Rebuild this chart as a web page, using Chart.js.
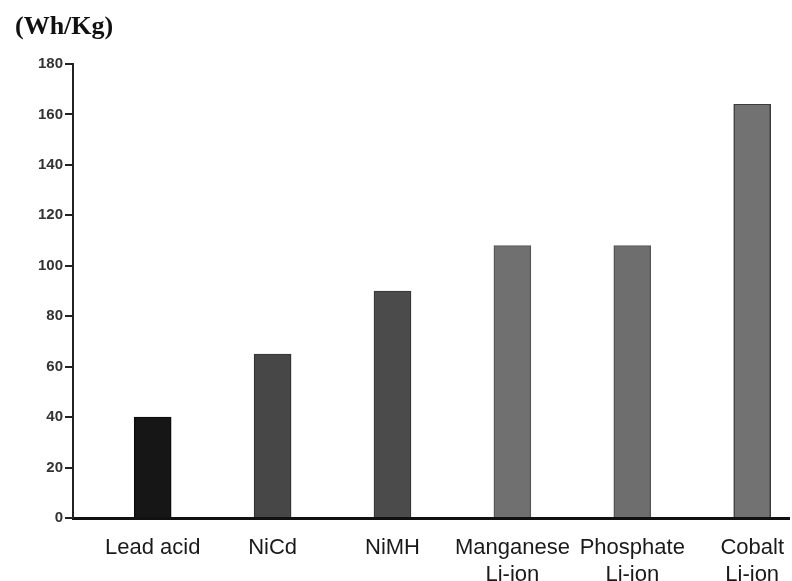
<!DOCTYPE html>
<html>
<head>
<meta charset="utf-8">
<script src="https://cdn.jsdelivr.net/npm/chart.js@4/dist/chart.umd.min.js"></script>
<style>
  html, body { margin: 0; padding: 0; background: #ffffff; }
  #wrap { width: 792px; height: 581px; }
</style>
</head>
<body>
<div id="wrap"><canvas id="c" width="792" height="581"></canvas></div>
<script>
// Specific energy by battery chemistry
const categories = [
  ['Lead acid'],
  ['NiCd'],
  ['NiMH'],
  ['Manganese', 'Li-ion'],
  ['Phosphate', 'Li-ion'],
  ['Cobalt', 'Li-ion']
];
const energyWhKg = [40, 65, 90, 108, 108, 164];
const yTicks = [0, 20, 40, 60, 80, 100, 120, 140, 160, 180];
const unitLabel = '(Wh/Kg)';

const fillColors   = ['#161616', '#474747', '#4b4b4b', '#707070', '#6e6e6e', '#727272'];
const borderColors = ['#0c0c0c', '#333333', '#363636', '#565656', '#565656', '#3c3c3c'];

const points = energyWhKg.map((v, i) => ({ x: i, y: v }));

new Chart(document.getElementById('c'), {
  type: 'bar',
  data: {
    datasets: [{
      data: points,
      backgroundColor: fillColors,
      borderColor: borderColors,
      borderWidth: { left: 1.5, right: 1.5, top: 1, bottom: 0 },
      barThickness: 37
    }]
  },
  options: {
    responsive: false,
    animation: false,
    layout: { padding: { left: 15, right: 0, top: 0, bottom: 0 } },
    plugins: {
      legend: { display: false },
      tooltip: { enabled: false },
      title: {
        display: true,
        text: unitLabel,
        align: 'start',
        color: '#111111',
        font: { family: 'Liberation Serif', size: 26, weight: 'bold', lineHeight: 1.2 },
        padding: { top: 12, bottom: 20.8 }
      }
    },
    scales: {
      x: {
        type: 'linear',
        offset: false,
        min: -0.6645,
        max: 5.307,
        afterBuildTicks: (scale) => { scale.ticks = categories.map((_, i) => ({ value: i })); },
        afterFit: (scale) => { scale.height = 63; },
        grid: { display: false },
        border: { display: true, color: '#111111', width: 3 },
        ticks: {
          autoSkip: false,
          maxRotation: 0,
          padding: 8,
          color: '#1a1a1a',
          font: { family: 'Liberation Sans', size: 22, lineHeight: 1.25 },
          callback: (v) => categories[v] || ''
        }
      },
      y: {
        min: 0,
        max: 180,
        afterBuildTicks: (scale) => { scale.ticks = yTicks.map(v => ({ value: v })); },
        afterFit: (scale) => { scale.width = 58; },
        grid: {
          display: true,
          drawOnChartArea: false,
          drawTicks: true,
          tickLength: 8,
          color: '#222222',
          lineWidth: 2
        },
        border: { display: true, color: '#222222', width: 2 },
        ticks: {
          padding: 2,
          color: '#333333',
          font: { family: 'Liberation Sans', size: 15, weight: 'bold' }
        }
      }
    }
  }
});
</script>
</body>
</html>
